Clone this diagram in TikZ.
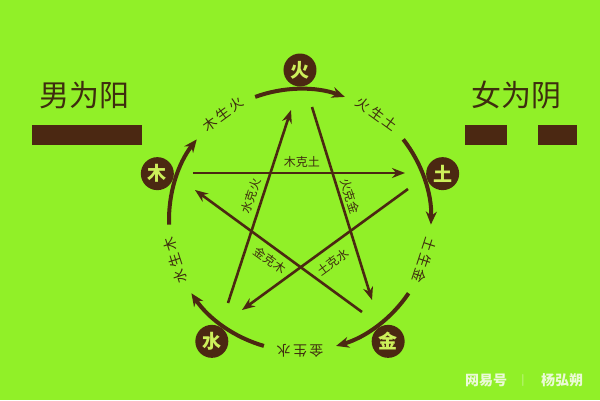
\documentclass[tikz,border=0pt]{standalone}
\usepackage{fontspec}
\newfontfamily\cjk{Noto Sans CJK SC}
\usetikzlibrary{arrows.meta}
\definecolor{bg}{RGB}{145,240,40}
\definecolor{brn}{RGB}{75,40,18}
\definecolor{txt}{RGB}{62,45,15}
\definecolor{elt}{RGB}{205,240,90}
\definecolor{wm}{RGB}{235,250,215}
\begin{document}
\begin{tikzpicture}[x=1pt,y=1pt,
 elem/.style={circle,fill=brn,minimum size=33pt,inner sep=0pt,text=elt,font=\cjk\bfseries\fontsize{19}{19}\selectfont},
 ring/.style={line width=4pt,draw=brn,-{Stealth[length=13pt,width=11pt]}},
 ke/.style={line width=2.6pt,draw=brn,-{Stealth[length=13pt,width=10pt]}},
 rlabel/.style={text=txt,inner sep=0pt,font=\cjk\fontsize{14}{14}\selectfont},
 klabel/.style={text=txt,inner sep=0pt,font=\cjk\fontsize{12}{12}\selectfont},
 big/.style={text=txt,inner sep=0pt,font=\cjk\fontsize{30}{30}\selectfont},
 bar/.style={fill=brn},
 wmark/.style={text=wm,inner sep=0pt,font=\cjk\bfseries\fontsize{14}{14}\selectfont}]
\fill[bg] (-300,-180) rectangle (300,220);
\useasboundingbox (-300,-180) rectangle (300,220);

% element nodes
\node[elem] (huo) at (90:150) {火};
\node[elem] (tu) at (18:150) {土};
\node[elem] (jin) at (-54:150) {金};
\node[elem] (shui) at (-126:150) {水};
\node[elem] (mu) at (162:150) {木};

% generating ring arcs
\draw[ring] (110:131) arc[start angle=110,end angle=70,radius=131];
\draw[ring] (38:131) arc[start angle=38,end angle=-2,radius=131];
\draw[ring] (-34:131) arc[start angle=-34,end angle=-74,radius=131];
\draw[ring] (-106:131) arc[start angle=-106,end angle=-146,radius=131];
\draw[ring] (182:131) arc[start angle=182,end angle=142,radius=131];

% ring labels
\node[rlabel,rotate=36] (l1) at (126:131) {木\,生\,火};
\node[rlabel,rotate=-36] (l2) at (54:131) {火\,生\,土};
\node[rlabel,rotate=-108] (l3) at (-18:131) {土\,生\,金};
\node[rlabel,rotate=180] (l4) at (-90:131) {金\,生\,水};
\node[rlabel,rotate=108] (l5) at (198:131) {水\,生\,木};

% controlling star
\coordinate (a1) at (-107,47); \coordinate (b1) at (105,47);
\coordinate (a2) at (108,31);  \coordinate (b2) at (-58,-90);
\coordinate (a3) at (-72,-83); \coordinate (b3) at (-9,110);
\coordinate (a4) at (12,113);  \coordinate (b4) at (72,-80);
\coordinate (a5) at (62,-92);  \coordinate (b5) at (-105,30);
\draw[ke] (a1) -- (b1);
\draw[ke] (a2) -- (b2);
\draw[ke] (a3) -- (b3);
\draw[ke] (a4) -- (b4);
\draw[ke] (a5) -- (b5);

\node[klabel] (k1) at (2,58) {木克土};
\node[klabel,rotate=72] (k2) at (-49,24) {水克火};
\node[klabel,rotate=-72] (k3) at (50,24) {火克金};
\node[klabel,rotate=-36] (k4) at (-30,-40) {金克木};
\node[klabel,rotate=36] (k5) at (33,-42) {土克水};

% yin yang
\node[big] (nan) at (-215,125) {男为阳};
\node[big] (nv) at (216,125) {女为阴};
\fill[bar] (-268,75) rectangle (-158,95);
\fill[bar] (165,75) rectangle (207,95);
\fill[bar] (238,75) rectangle (277,95);

% watermark
\node[wmark] (w1) at (186,-160) {网易号};
\node[wmark,font=\sffamily\fontsize{12}{12}\selectfont] (w2) at (223,-160) {|};
\node[wmark] (w3) at (262,-160) {杨弘朔};
\end{tikzpicture}
\end{document}
